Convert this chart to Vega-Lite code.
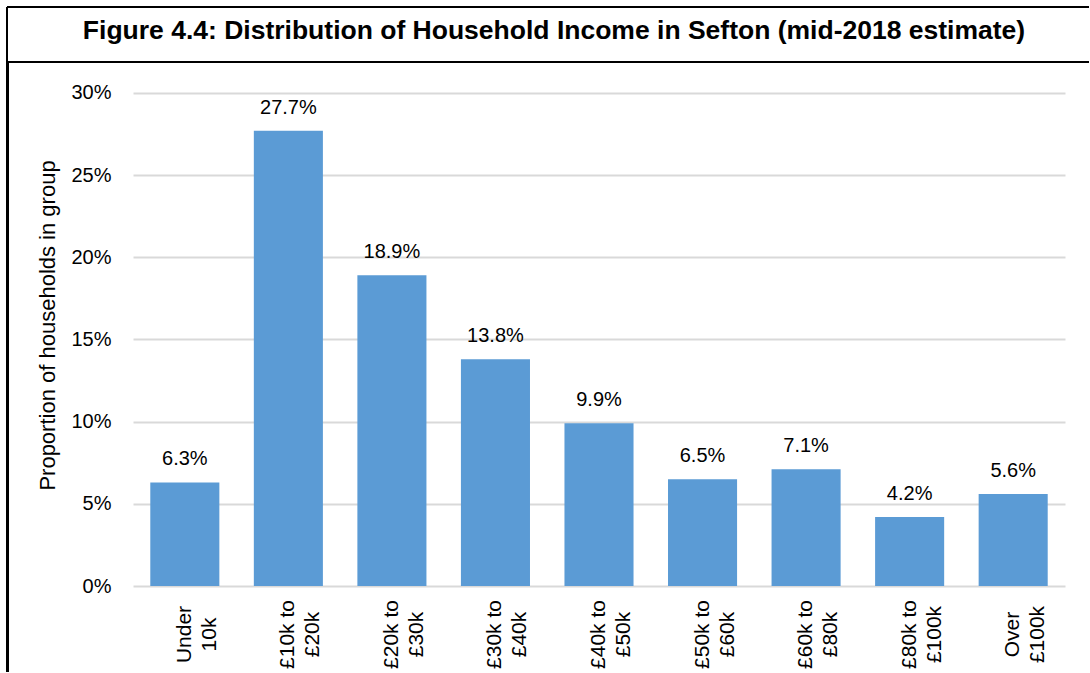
{
  "$schema": "https://vega.github.io/schema/vega-lite/v6.json",
  "padding": {"left": 6, "top": 6, "right": 0, "bottom": 0},
  "background": "white",
  "config": {
    "font": "Liberation Sans",
    "view": {"stroke": null},
    "concat": {"spacing": 0}
  },
  "datasets": {
    "income": [
      {"group": "Under 10k", "share": 0.063},
      {"group": "£10k to £20k", "share": 0.277},
      {"group": "£20k to £30k", "share": 0.189},
      {"group": "£30k to £40k", "share": 0.138},
      {"group": "£40k to £50k", "share": 0.099},
      {"group": "£50k to £60k", "share": 0.065},
      {"group": "£60k to £80k", "share": 0.071},
      {"group": "£80k to £100k", "share": 0.042},
      {"group": "Over £100k", "share": 0.056}
    ],
    "heading": [
      {"t": "Figure 4.4: Distribution of Household Income in Sefton (mid-2018 estimate)"}
    ]
  },
  "vconcat": [
    {
      "width": 1082,
      "height": 55,
      "view": {"stroke": "black", "strokeWidth": 2, "strokeDash": [1082, 55, 1137, 0]},
      "data": {"name": "heading"},
      "mark": {"type": "text", "font": "Liberation Sans", "fontWeight": "bold", "fontSize": 26.5, "color": "black", "baseline": "alphabetic", "dx": 6, "dy": 4},
      "encoding": {"text": {"field": "t"}}
    },
    {
      "spacing": 27,
      "hconcat": [
        {
          "width": 1,
          "height": 607,
          "view": {"stroke": "black", "strokeWidth": 2},
          "data": {"values": []},
          "mark": "point"
        },
        {
          "width": 932,
          "height": 522,
          "data": {"name": "income"},
          "encoding": {
            "x": {
              "field": "group",
              "type": "nominal",
              "sort": null,
              "scale": {"paddingInner": 0.333, "paddingOuter": 0.167},
              "axis": {
                "title": null,
                "domain": false,
                "ticks": false,
                "labelAngle": -90,
                "labelAlign": "center",
                "labelBaseline": "middle",
                "labelPadding": 48,
                "labelFontSize": 21,
                "labelLineHeight": 25,
                "labelColor": "black",
                "labelLimit": 200,
                "labelOverlap": false,
                "labelExpr": "[slice(datum.label, 0, lastindexof(datum.label, ' ')), slice(datum.label, lastindexof(datum.label, ' ') + 1)]"
              }
            },
            "y": {
              "field": "share",
              "type": "quantitative",
              "scale": {"domain": [0, 0.3176], "nice": false},
              "axis": {
                "values": [0, 0.05, 0.1, 0.15, 0.2, 0.25, 0.3],
                "format": ".0%",
                "title": "Proportion of households in group",
                "titleFontSize": 22,
                "titleFontWeight": "normal",
                "titleColor": "black",
                "titlePadding": 11,
                "domain": false,
                "ticks": false,
                "labelPadding": 22,
                "labelFontSize": 20,
                "labelColor": "black",
                "gridColor": "#D9D9D9",
                "gridWidth": 2
              }
            }
          },
          "layer": [
            {"mark": {"type": "bar", "color": "#5B9BD5"}},
            {
              "mark": {"type": "text", "fontSize": 20, "color": "black", "baseline": "alphabetic", "dy": -17},
              "encoding": {"text": {"field": "share", "type": "quantitative", "format": ".1%"}}
            }
          ]
        }
      ]
    }
  ]
}
